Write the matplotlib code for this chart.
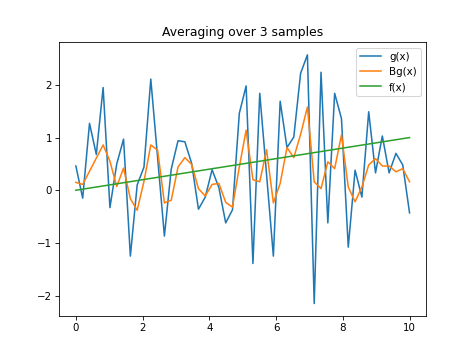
import numpy as np
from matplotlib import pyplot as plt

# 50 samples between 0 and 10
x = np.linspace(0, 10, 50)

# noisy samples g(x)
g_vals = [0.46, -0.15, 1.27, 0.68, 1.95, -0.33, 0.50, 0.97, -1.25, 0.10,
          0.44, 2.11, 0.62, -0.87, 0.40, 0.94, 0.92, 0.51, -0.36, -0.13,
          0.39, 0.05, -0.62, -0.37, 1.46, 1.98, -1.39, 1.84, 0.30, -1.25,
          1.69, 0.81, 1.01, 2.22, 2.57, -2.15, 2.24, -0.62, 1.84, 1.36,
          -1.08, 0.38, -0.13, 1.49, 0.33, 1.03, 0.33, 0.70, 0.48, -0.43]

# averaged samples Bg(x)
bg_vals = [0.15, 0.11, 0.36, 0.61, 0.86, 0.55, 0.07, 0.42, -0.16, -0.38,
           0.17, 0.86, 0.76, -0.24, -0.19, 0.44, 0.62, 0.49, 0.03, -0.11,
           0.11, 0.13, -0.23, -0.32, 0.44, 1.14, 0.20, 0.16, 0.77, -0.24,
           0.13, 0.81, 0.62, 1.06, 1.58, 0.16, 0.03, 0.54, 0.41, 1.05,
           0.06, -0.22, 0.06, 0.48, 0.60, 0.46, 0.46, 0.35, 0.41, 0.16]

# underlying line f(x)
f_x = [0, 10]
f_y = [0.0, 1.0]

fig = plt.figure(figsize=(6.4, 4.8), dpi=74)
plt.plot(x, g_vals, label="g(x)")
plt.plot(x, bg_vals, label="Bg(x)")
plt.plot(f_x, f_y, label="f(x)")
plt.title("Averaging over 3 samples")
plt.legend(loc="upper right")
plt.savefig("out.png", dpi=74)
